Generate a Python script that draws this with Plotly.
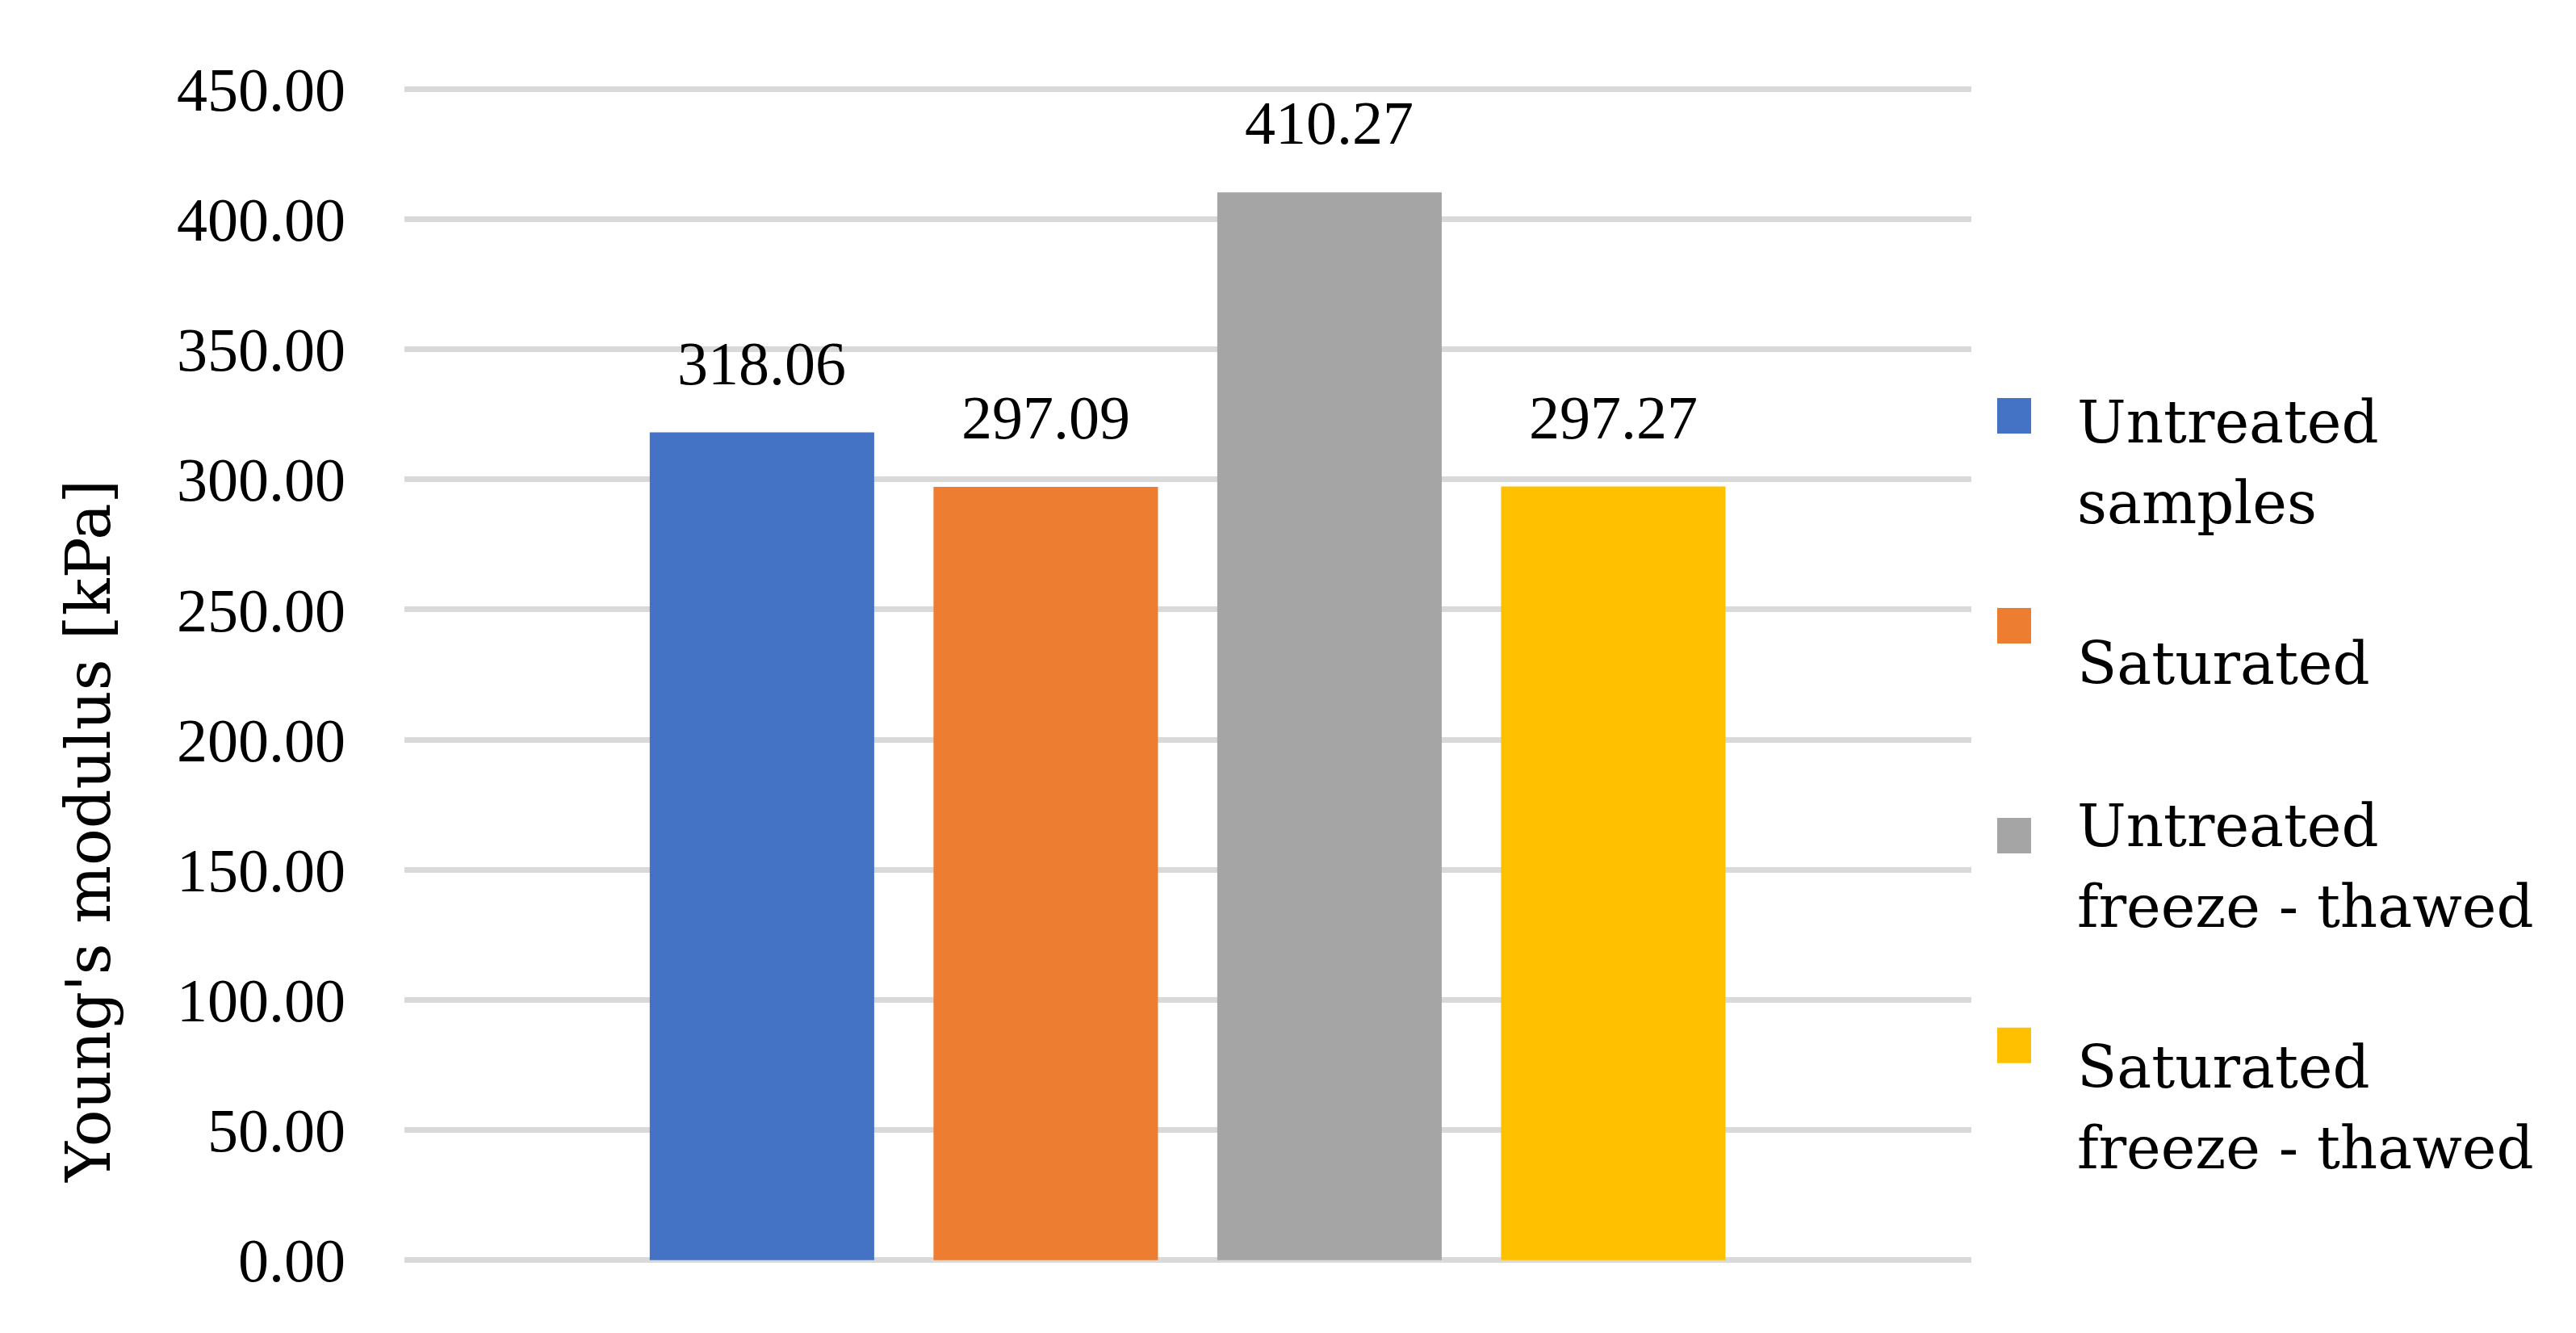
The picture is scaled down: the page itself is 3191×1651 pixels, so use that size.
import plotly.graph_objects as go

# ---- data ----
series_names = ["Untreated samples", "Saturated", "Untreated freeze - thawed", "Saturated freeze - thawed"]
legend_labels = ["Untreated<br>samples", "Saturated", "Untreated<br>freeze - thawed", "Saturated<br>freeze - thawed"]
values = [318.06, 297.09, 410.27, 297.27]
colors = ["#4472C4", "#ED7D31", "#A5A5A5", "#FFC000"]
y_ticks = [0, 50, 100, 150, 200, 250, 300, 350, 400, 450]
y_title = "Young's modulus [kPa]"

# ---- layout geometry (pixels) ----
W, H = 3191, 1651
Y0_PX, YMAX_PX = 1561, 110          # pixel rows of the 0 and 450 gridlines
Y_MIN, Y_MAX = 0, 450
SCALE = (Y0_PX - YMAX_PX) / (Y_MAX - Y_MIN)
PAD = 1.0                             # value padding so edge gridlines are drawn
ML, MR = 501, 749
MT = YMAX_PX - PAD * SCALE
MB = H - Y0_PX - PAD * SCALE
PW = W - ML - MR
PH = H - MT - MB


def px_x(p):
    return (p - ML) / PW


def px_y(p):
    return (H - MB - p) / PH


NUM_FONT = "Liberation Serif"
TXT_FONT = "DejaVu Serif"

fig = go.Figure()
fig.add_trace(go.Bar(
    x=series_names, y=values, marker=dict(color=colors, line=dict(width=0)),
    width=0.791, showlegend=False, hoverinfo="x+y",
))

annotations = []
# data labels
for name, v in zip(series_names, values):
    annotations.append(dict(
        x=name, y=v, xref="x", yref="y", text=f"{v:.2f}", showarrow=False,
        yanchor="middle", yshift=86, font=dict(family=NUM_FONT, size=76, color="black"),
    ))

# y-axis title
annotations.append(dict(
    x=px_x(110), y=px_y(1030), xref="paper", yref="paper", text=y_title,
    textangle=-90, showarrow=False, xanchor="center", yanchor="middle",
    font=dict(family=TXT_FONT, size=76, color="black"),
))

# manual legend (large square swatches like the original)
swatch_centers = [515, 775, 1035, 1295]
text_tops = [479, 778, 979, 1278]
LINE_H = 100
shapes = []
for lab, col, sc, tt in zip(legend_labels, colors, swatch_centers, text_tops):
    shapes.append(dict(
        type="rect", xref="paper", yref="paper",
        x0=px_x(2474), x1=px_x(2516), y0=px_y(sc + 22), y1=px_y(sc - 22),
        fillcolor=col, line=dict(width=0),
    ))
    for i, line in enumerate(lab.split("<br>")):
        annotations.append(dict(
            x=px_x(2571), y=px_y(tt + i * LINE_H), xref="paper", yref="paper", text=line,
            showarrow=False, xanchor="left", yanchor="top", align="left",
            font=dict(family=TXT_FONT, size=72, color="black"),
        ))

x_left = -1.260
x_right = 4.262

fig.update_layout(
    width=W, height=H,
    margin=dict(l=ML, r=MR, t=MT, b=MB, autoexpand=False),
    paper_bgcolor="white", plot_bgcolor="white",
    showlegend=False,
    xaxis=dict(
        type="category", range=[x_left, x_right],
        showticklabels=False, showgrid=False, zeroline=False, showline=False, ticks="",
    ),
    yaxis=dict(
        range=[Y_MIN - PAD, Y_MAX + PAD], tickvals=y_ticks, tickformat=".2f",
        showgrid=True, gridcolor="#D9D9D9", gridwidth=7,
        zeroline=False, showline=False, ticks="",
        ticklabelstandoff=72,
        tickfont=dict(family=NUM_FONT, size=76, color="black"),
    ),
    annotations=annotations,
    shapes=shapes,
)

fig.write_html(
    "out.html",
    config={"displayModeBar": False},
    post_script="document.body.style.margin='0';document.body.style.overflow='hidden';",
)
